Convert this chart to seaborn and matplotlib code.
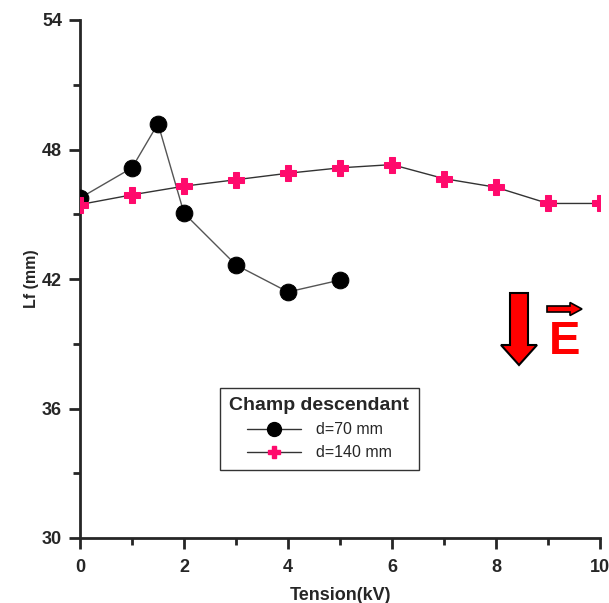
import numpy as np
import pandas as pd
import seaborn as sns
import matplotlib.pyplot as plt
from matplotlib.lines import Line2D
from matplotlib.patches import FancyArrow
from matplotlib.transforms import IdentityTransform
from matplotlib.ticker import MultipleLocator

# data
tension_70 = [0, 1, 1.5, 2, 3, 4, 5]
lf_70 = [45.75, 47.15, 49.2, 45.05, 42.65, 41.4, 41.95]
tension_140 = [0, 1, 2, 3, 4, 5, 6, 7, 8, 9, 10]
lf_140 = [45.45, 45.9, 46.3, 46.6, 46.9, 47.15, 47.3, 46.65, 46.25, 45.5, 45.5]

pink = "#ff0a6c"

sns.set_style("ticks")
plt.rcParams["font.family"] = ["Liberation Sans", "DejaVu Sans"]

fig = plt.figure(figsize=(6.09, 6.03), dpi=100)
ax = fig.add_axes([80 / 609, 1 - 538 / 603, 520 / 609, 518 / 603])

d70 = pd.DataFrame({"x": tension_70, "y": lf_70})
d140 = pd.DataFrame({"x": tension_140, "y": lf_140})

sns.lineplot(data=d70, x="x", y="y", ax=ax, sort=False, color="#555555", lw=1,
             marker="o", markersize=12, markerfacecolor="black",
             markeredgecolor="black", zorder=3)
sns.lineplot(data=d140, x="x", y="y", ax=ax, sort=False, color="#333333", lw=1,
             marker="P", markersize=11, markerfacecolor=pink,
             markeredgecolor=pink, zorder=4)

ax.set_xlim(0, 10)
ax.set_ylim(30, 54)
ax.xaxis.set_major_locator(MultipleLocator(2))
ax.xaxis.set_minor_locator(MultipleLocator(1))
ax.yaxis.set_major_locator(MultipleLocator(6))
ax.yaxis.set_minor_locator(MultipleLocator(3))
sns.despine(ax=ax)
for s in ["left", "bottom"]:
    ax.spines[s].set_linewidth(2)
ax.tick_params(which="major", length=8, width=2, labelsize=13)
ax.tick_params(axis="x", which="major", pad=7)
ax.tick_params(axis="y", which="major", pad=5)
ax.tick_params(which="minor", length=5, width=2)
for lab in ax.get_xticklabels() + ax.get_yticklabels():
    lab.set_fontweight("bold")

ax.set_xlabel("Tension(kV)", fontsize=13, fontweight="bold", labelpad=8)
ax.set_ylabel("Lf (mm)", fontsize=11.5, fontweight="bold", labelpad=2)

handles = [
    Line2D([], [], color="#333333", lw=1, marker="o", markersize=10,
           markerfacecolor="black", markeredgecolor="black"),
    Line2D([], [], color="#333333", lw=1, marker="P", markersize=9,
           markerfacecolor=pink, markeredgecolor=pink),
]
leg = ax.legend(handles, ["d=70 mm", "d=140 mm"], title="Champ descendant",
                loc="upper left", bbox_to_anchor=(0.269, 0.29), borderaxespad=0,
                fontsize=11.5, title_fontproperties={"weight": "bold", "size": 14},
                fancybox=False, edgecolor="#333333", framealpha=1,
                handlelength=3.4, handletextpad=0.9, labelspacing=0.5,
                borderpad=0.6)
leg.get_frame().set_linewidth(1)

# field direction arrows, drawn in pixel coords
H = 603
fig.add_artist(FancyArrow(519, H - 293, 0, -72, width=18, head_width=36,
                          head_length=20, length_includes_head=True,
                          fc="red", ec="black", lw=1.5,
                          transform=IdentityTransform()))
fig.add_artist(FancyArrow(547, H - 309, 35, 0, width=6, head_width=13,
                          head_length=12, length_includes_head=True,
                          fc="red", ec="black", lw=1.2,
                          transform=IdentityTransform()))
fig.text(565 / 609, 1 - 342 / 603, "E", color="red", fontsize=34,
         fontweight="bold", ha="center", va="center")

fig.savefig("out.png", dpi=100)
